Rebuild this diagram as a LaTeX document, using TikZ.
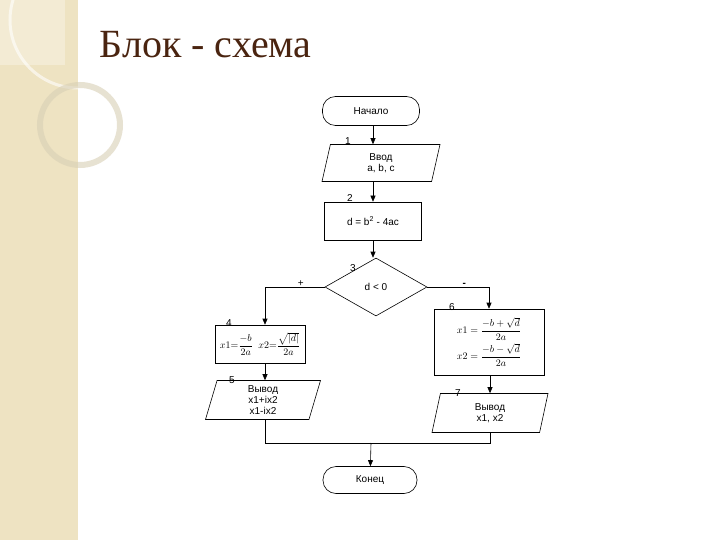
\documentclass[tikz,border=0pt]{standalone}
\usepackage{fontspec}
\setmainfont{Liberation Sans}
\newfontfamily\titlefont{Liberation Serif}
\usetikzlibrary{shapes.geometric,arrows.meta}
\definecolor{strip}{HTML}{EEE3C2}
\definecolor{titlec}{HTML}{4A2410}
\begin{document}
\begin{tikzpicture}[x=1pt,y=-1pt,font=\fontsize{10}{11}\selectfont,
  line width=0.6pt,
  term/.style={draw,rounded corners=13pt,minimum width=97pt,minimum height=29pt},
  proc/.style={draw,minimum width=97pt,minimum height=38pt,align=center},
  io/.style={draw,trapezium,trapezium left angle=72,trapezium right angle=108,minimum height=37pt,align=center,inner xsep=2pt,trapezium stretches body},
  dec/.style={draw,diamond,minimum width=102pt,minimum height=58pt,aspect=1.76},
  num/.style={font=\fontsize{10}{11}\selectfont},
  arr/.style={-{Triangle[length=6pt,width=5pt]}}]
\useasboundingbox (0,0) rectangle (720,540);
\fill[white] (0,0) rectangle (720,540);
\fill[strip] (0,0) rectangle (78,540);
\fill[white,opacity=0.3] (0,0) rectangle (65,65);
\draw[white,opacity=0.6,line width=3pt] (78,20) circle (68);
\draw[strip!80!gray,opacity=0.6,line width=6pt] (80,125) circle (40);
\node[font=\titlefont\fontsize{40}{44}\selectfont,text=titlec,anchor=west] (title) at (96,45) {Блок - схема};
\node[term] (start) at (371,111) {Начало};
\node[io,minimum width=118pt] (in) at (381,163) {Ввод\\a, b, c};
\node[proc] (d) at (373,221) {d = b\textsuperscript{2} - 4ac};
\node[dec] (c) at (376,287) {d < 0};
\node[proc,minimum width=90pt] (b4) at (260,344) {$\displaystyle x1{=}\frac{-b}{2a}\;\;x2{=}\frac{\sqrt{|d|}}{2a}$};
\node[io,minimum width=115pt,minimum height=39pt] (o5) at (263,400) {Вывод\\x1+ix2\\x1-ix2};
\node[proc,minimum width=110pt,minimum height=66pt] (b6) at (489,342) {$\displaystyle x1=\frac{-b+\sqrt{d}}{2a}$\\[2pt]$\displaystyle x2=\frac{-b-\sqrt{d}}{2a}$};
\node[io,minimum width=116pt,minimum height=39pt] (o7) at (490,413) {Вывод\\x1, x2};
\node[term,minimum width=94pt,minimum height=27pt] (end) at (370,480) {Конец};
\node[num] (n1) at (348,141) {1};
\node[num] (n2) at (350,198) {2};
\node[num] (n3) at (353,268) {3};
\node[num] (n4) at (229,323) {4};
\node[num] (n5) at (232,380) {5};
\node[num] (n6) at (452,307) {6};
\node[num] (n7) at (458,393) {7};
\draw[arr] (start.south -| d.north) -- (d.north |- in.north);
\draw[arr] (d.north |- in.south) -- (d.north);
\draw[arr] (d.south) -- (d.south |- c.north);
\draw[arr] (c.west) -| node[pos=0.2,above=-3pt]{+} (b4.north -| 265,0);
\draw[arr] (c.east) -| node[pos=0.3,above=-3pt]{\textbf{-}} (b6.north);
\draw[arr] (b4.south -| 265,0) -- (o5.north -| 265,0);
\draw[arr] (b6.south -| o7.north) -- (o7.north);
\coordinate (m) at (371,443);
\draw (o5.south -| 265,0) |- (m);
\draw (o7.south) |- (m);
\draw[arr] (m) -- (end);
\end{tikzpicture}
\end{document}
